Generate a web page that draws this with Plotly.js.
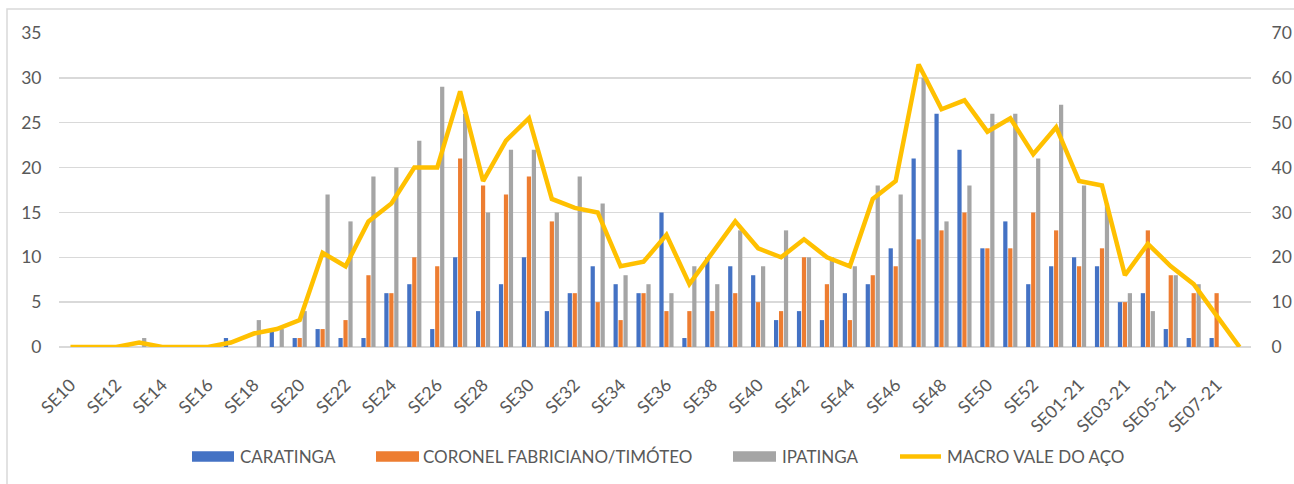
<!DOCTYPE html>
<html>
<head>
<meta charset="utf-8">
<script src="https://cdn.plot.ly/plotly-3.0.1.min.js"></script>
<style>
html,body{margin:0;padding:0;background:#fff;}
#chart{width:1294px;height:484px;}
</style>
</head>
<body>
<div id="chart"></div>
<script>
const weeks = ["SE10","SE11","SE12","SE13","SE14","SE15","SE16","SE17","SE18","SE19",
  "SE20","SE21","SE22","SE23","SE24","SE25","SE26","SE27","SE28","SE29",
  "SE30","SE31","SE32","SE33","SE34","SE35","SE36","SE37","SE38","SE39",
  "SE40","SE41","SE42","SE43","SE44","SE45","SE46","SE47","SE48","SE49",
  "SE50","SE51","SE52","SE53","SE01-21","SE02-21","SE03-21","SE04-21","SE05-21","SE06-21",
  "SE07-21","SE08-21"];

const caratinga = [0,0,0,0,0,0,0,1,0,2,
  1,2,1,1,6,7,2,10,4,7,
  10,4,6,9,7,6,15,1,10,9,
  8,3,4,3,6,7,11,21,26,22,
  11,14,7,9,10,9,5,6,2,1,
  1,0];

const coronel = [0,0,0,0,0,0,0,0,0,0,
  1,2,3,8,6,10,9,21,18,17,
  19,14,6,5,3,6,4,4,4,6,
  5,4,10,7,3,8,9,12,13,15,
  11,11,15,13,9,11,5,13,8,6,
  6,0];

const ipatinga = [0,0,0,1,0,0,0,0,3,2,
  4,17,14,19,20,23,29,26,15,22,
  22,15,19,16,8,7,6,9,7,13,
  9,13,10,10,9,18,17,30,14,18,
  26,26,21,27,18,16,6,4,8,7,
  0,0];

const macro = [0,0,0,1,0,0,0,1,3,4,
  6,21,18,28,32,40,40,57,37,46,
  51,33,31,30,18,19,25,14,21,28,
  22,20,24,20,18,33,37,63,53,55,
  48,51,43,49,37,36,16,23,18,14,
  7,0];

const seriesNames = ["CARATINGA","CORONEL FABRICIANO/TIMÓTEO","IPATINGA","MACRO VALE DO AÇO"];
const seriesColors = ["#4472C4","#ED7D31","#A5A5A5","#FFC000"];

const tickWeeks = weeks.filter((w,i)=> i % 2 === 0);
const leftTicks = [0,5,10,15,20,25,30,35];
const rightTicks = [0,10,20,30,40,50,60,70];

const FONT = "Lato, 'Liberation Sans', sans-serif";
const TXT = "#595959";

const traces = [
  {type:"bar", x:weeks, y:caratinga, name:seriesNames[0], marker:{color:seriesColors[0]}, showlegend:false, hoverinfo:"x+y"},
  {type:"bar", x:weeks, y:coronel, name:seriesNames[1], marker:{color:seriesColors[1]}, showlegend:false, hoverinfo:"x+y"},
  {type:"bar", x:weeks, y:ipatinga, name:seriesNames[2], marker:{color:seriesColors[2]}, showlegend:false, hoverinfo:"x+y"},
  {type:"scatter", mode:"lines", x:weeks, y:macro, yaxis:"y2", name:seriesNames[3], line:{color:seriesColors[3], width:4.5}, showlegend:false, hoverinfo:"x+y"}
];

// Custom legend (Excel-style wide swatches), built from the series names/colours
const L = 59, R = 43, T = 33, B = 137, W = 1294, H = 484;
const pw = W - L - R, ph = H - T - B;
const px = v => (v - L) / pw;
const py = v => (H - B - v) / ph;

const legendItems = [
  {sx0:192, sx1:234, tx:238, kind:"bar"},
  {sx0:376, sx1:419, tx:421, kind:"bar"},
  {sx0:733, sx1:776, tx:780, kind:"bar"},
  {sx0:898, sx1:943, tx:945, kind:"line"}
];
const legY = 456.5;
const shapes = [
  {type:"rect", xref:"paper", yref:"paper", x0:px(7), x1:px(1330), y0:py(9), y1:py(520),
   line:{color:"#d9d9d9", width:1.5}, fillcolor:"rgba(0,0,0,0)", layer:"below"}
];
const annotations = [];
legendItems.forEach((it,i)=>{
  if (it.kind === "bar") {
    shapes.push({type:"rect", xref:"paper", yref:"paper", x0:px(it.sx0), x1:px(it.sx1),
      y0:py(legY+5.3), y1:py(legY-5.3), line:{width:0}, fillcolor:seriesColors[i]});
  } else {
    shapes.push({type:"line", xref:"paper", yref:"paper", x0:px(it.sx0+2), x1:px(it.sx1-2),
      y0:py(legY), y1:py(legY), line:{color:seriesColors[i], width:4.5}});
  }
  annotations.push({xref:"paper", yref:"paper", x:px(it.tx), y:py(legY), xanchor:"left", yanchor:"middle",
    text:seriesNames[i], showarrow:false, font:{family:FONT, size:17, color:TXT}});
});

const layout = {
  width:W, height:H,
  margin:{l:L, r:R, t:T, b:B, pad:0},
  paper_bgcolor:"#ffffff", plot_bgcolor:"#ffffff",
  barmode:"group", bargap:0.35, bargroupgap:0.15,
  showlegend:false,
  font:{family:FONT, color:TXT},
  xaxis:{type:"category", categoryorder:"array", categoryarray:weeks,
    tickmode:"array", tickvals:tickWeeks, ticktext:tickWeeks, tickangle:-45,
    tickfont:{family:FONT, size:17.5, color:TXT},
    showgrid:false, zeroline:false, showline:false,
    ticks:"outside", ticklen:20, tickcolor:"rgba(0,0,0,0)",
    range:[-0.5, weeks.length-0.5], fixedrange:true},
  yaxis:{range:[0,35], tickmode:"array", tickvals:leftTicks, ticktext:leftTicks.map(String),
    tickfont:{family:FONT, size:17.5, color:TXT},
    showgrid:true, gridcolor:"#d9d9d9", gridwidth:1.5,
    zeroline:true, zerolinecolor:"#d9d9d9", zerolinewidth:1.5,
    showline:false, ticks:"outside", ticklen:13, tickcolor:"rgba(0,0,0,0)", fixedrange:true},
  yaxis2:{range:[0,70], overlaying:"y", side:"right", tickmode:"array", tickvals:rightTicks, ticktext:rightTicks.map(String),
    tickfont:{family:FONT, size:17.5, color:TXT},
    showgrid:false, zeroline:false, showline:false,
    ticks:"outside", ticklen:16, tickcolor:"rgba(0,0,0,0)", fixedrange:true},
  shapes:shapes,
  annotations:annotations
};

Plotly.newPlot("chart", traces, layout, {displayModeBar:false, staticPlot:true});
</script>
</body>
</html>
